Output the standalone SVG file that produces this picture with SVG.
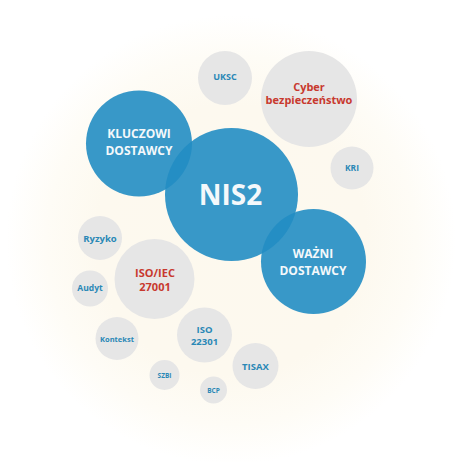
<svg xmlns="http://www.w3.org/2000/svg" width="462" height="462" viewBox="0 0 462 462">
<defs>
<radialGradient id="glow" cx="231" cy="240" r="225" gradientUnits="userSpaceOnUse">
<stop offset="0" stop-color="#fdf9ee"/>
<stop offset="0.6" stop-color="#fdf9ef"/>
<stop offset="0.82" stop-color="#fefcf6"/>
<stop offset="1" stop-color="#ffffff"/>
</radialGradient>
<style>
.blue{fill:#228dc3;fill-opacity:0.9}
.grey{fill:#e6e6e6}
text{font-family:"Open Sans","Noto Sans","DejaVu Sans",sans-serif;font-weight:bold;text-anchor:middle}
.w{fill:#f4f8fb;font-size:12px}
.big{font-size:28px}
.b{fill:#2a88b6}
.r{fill:#c8392e}
</style>
</defs>
<rect width="462" height="462" fill="#ffffff"/>
<circle cx="231" cy="240" r="225" fill="url(#glow)"/>
<g id="uksc"><circle class="grey" cx="225" cy="78" r="27"/><text class="b" x="225" y="79.5" font-size="9">UKSC</text></g>
<g id="cyber"><circle class="grey" cx="309" cy="99" r="48"/><text class="r" x="309" y="90.5" font-size="11">Cyber</text><text class="r" x="309" y="104" font-size="11">bezpieczeństwo</text></g>
<g id="kri"><circle class="grey" cx="352" cy="168" r="21.5"/><text class="b" x="352" y="170.5" font-size="8.5">KRI</text></g>
<g id="ryzyko"><circle class="grey" cx="100" cy="238" r="22"/><text class="b" x="100" y="241.5" font-size="9.5">Ryzyko</text></g>
<g id="iso27001"><circle class="grey" cx="154.5" cy="279" r="40"/><text class="r" x="155" y="276.5" font-size="11">ISO/IEC</text><text class="r" x="155" y="290.5" font-size="11">27001</text></g>
<g id="audyt"><circle class="grey" cx="90" cy="288.5" r="18"/><text class="b" x="90" y="290.5" font-size="8.5">Audyt</text></g>
<g id="kontekst"><circle class="grey" cx="117" cy="338.5" r="21.5"/><text class="b" x="117" y="341.5" font-size="7.5">Kontekst</text></g>
<g id="iso22301"><circle class="grey" cx="204.5" cy="335" r="27.5"/><text class="b" x="204.5" y="332.5" font-size="9.5">ISO</text><text class="b" x="204.5" y="345" font-size="9.5">22301</text></g>
<g id="szbi"><circle class="grey" cx="164.5" cy="375" r="15"/><text class="b" x="164.5" y="377.5" font-size="6.5">SZBI</text></g>
<g id="bcp"><circle class="grey" cx="213.5" cy="390" r="13.5"/><text class="b" x="213.5" y="392.5" font-size="6.5">BCP</text></g>
<g id="tisax"><circle class="grey" cx="255.5" cy="366" r="23"/><text class="b" x="255.5" y="369.5" font-size="9.5">TISAX</text></g>
<g id="kluczowi"><circle class="blue" cx="139" cy="143.5" r="53"/><text class="w" x="139" y="137.5">KLUCZOWI</text><text class="w" x="139" y="155">DOSTAWCY</text></g>
<g id="wazni"><circle class="blue" cx="313.5" cy="261.5" r="52.5"/><text class="w" x="313" y="258">WAŻNI</text><text class="w" x="313" y="274.5">DOSTAWCY</text></g>
<g id="nis2"><circle class="blue" cx="231.5" cy="194.5" r="66.5"/><text class="w big" x="230.5" y="205">NIS2</text></g>
</svg>
